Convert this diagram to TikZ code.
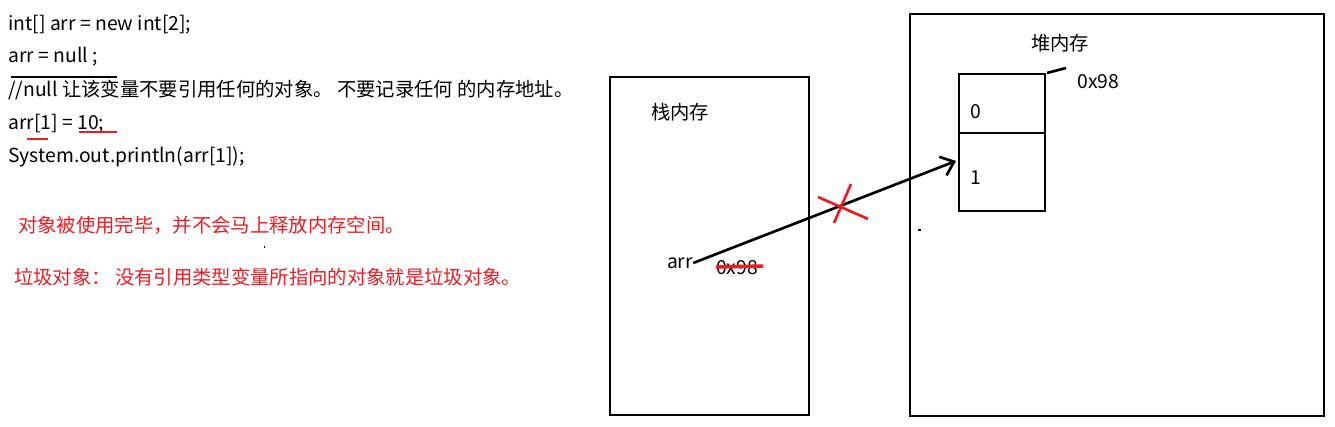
\documentclass[tikz,border=0pt]{standalone}
\usepackage{fontspec}
\setmainfont{Noto Sans CJK SC}
\usetikzlibrary{arrows.meta}
\definecolor{paintred}{RGB}{237,28,36}
\tikzset{
  box/.style={line width=2.2pt},
  txt/.style={anchor=west, inner sep=0pt},
  redtxt/.style={txt, text=paintred},
  redmark/.style={paintred, line width=2pt},
  ptr/.style={line width=2pt, -{Straight Barb[length=9pt, width=15pt, line width=2pt]}},
}
\begin{document}
\begin{tikzpicture}[x=0.75pt, y=-0.75pt, font=\fontsize{14.5}{17}\selectfont]
  \useasboundingbox (0,0) rectangle (1335,427);

  % code lines
  \node[txt] (code1) at (8,25) {int[] arr = new int[2];};
  \node[txt] (code2) at (8,57) {arr = null ;};
  \node[txt] (code3) at (8,90) {//null 让该变量不要引用任何的对象。 不要记录任何 的内存地址。};
  \node[txt] (code4) at (8,124) {arr[1] = 10;};
  \node[txt] (code5) at (8,157) {System.out.println(arr[1]);};

  \draw[line width=2.2pt] (11,77) -- (117,77);
  \draw[redmark] (27,139) -- (48,139);
  \draw[redmark] (79,132) -- (117,132);

  %-------------
  \node[redtxt] (note1) at (18,225) {对象被使用完毕，并不会马上释放内存空间。};
  \node[redtxt] (note2) at (14,277) {垃圾对象： 没有引用类型变量所指向的对象就是垃圾对象。};
  \fill (263.5,246.5) rectangle ++(1.5,1.5);

  %------------- stack
  \draw[box] (610,77) rectangle (809,415);
  \node (stack) at (680,112) {栈内存};
  \node[inner sep=0pt] (arr) at (680,263) {arr};
  \node[inner sep=0pt] (addr) at (737,268) {0x98};
  \draw[redmark, line width=2.6pt] (716,267) -- (763,266);

  %------------- heap
  \draw[box] (910,14) rectangle (1324,416);
  \node (heap) at (1060,43) {堆内存};
  \draw[box] (959,74) rectangle (1045,133);
  \draw[box] (959,133) rectangle (1045,211);
  \node[inner sep=0pt] (zero) at (976,112) {0};
  \node[inner sep=0pt] (one) at (976,178) {1};
  \draw[line width=2pt] (1047,73) -- (1066,68);
  \node[txt] (heapaddr) at (1077,82) {0x98};
  \fill (918,229) rectangle ++(2.5,2.5);

  %------------- reference
  \coordinate (tip) at (956,161);
  \draw[ptr] (arr.east) -- (tip);

  \draw[redmark] (818,197) -- (868,219);
  \draw[redmark] (851,184) -- (834,223);

\end{tikzpicture}
\end{document}
